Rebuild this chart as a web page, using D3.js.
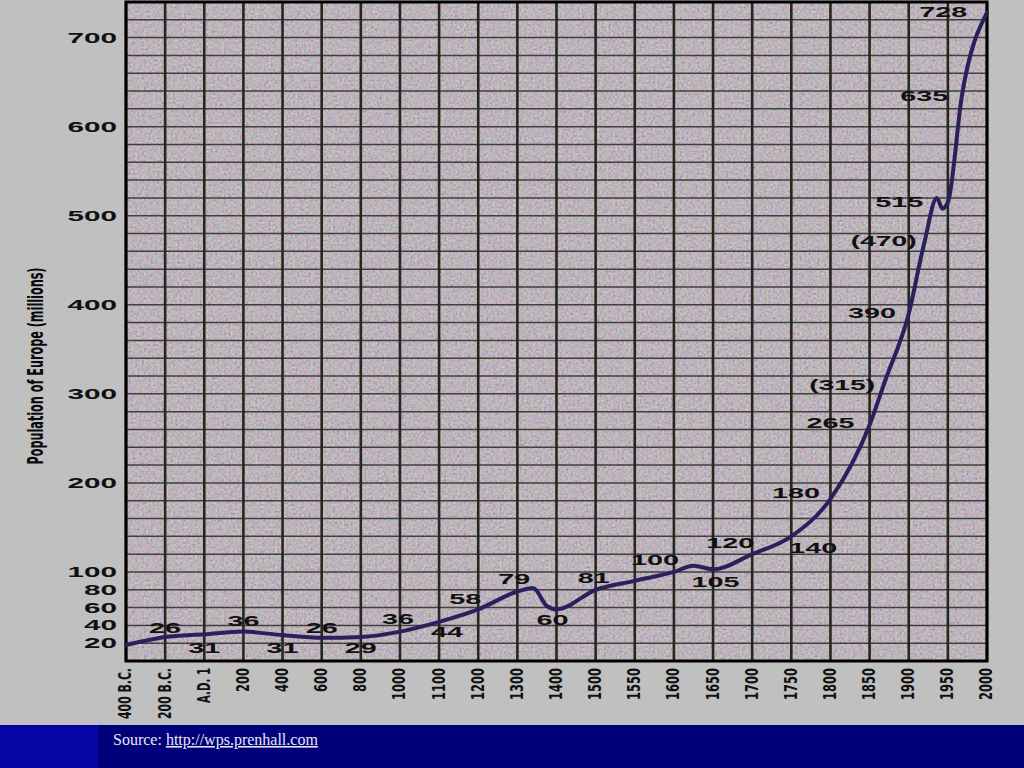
<!DOCTYPE html>
<html>
<head>
<meta charset="utf-8">
<script src="https://cdn.jsdelivr.net/npm/d3@7/dist/d3.min.js"></script>
<style>
  html, body { margin: 0; padding: 0; background: #c0c0c0; }
  svg { display: block; }
</style>
</head>
<body>
<svg id="chart" width="1024" height="768"></svg>
<script>
// ---- data ----
const categoryYears = [-400, -200, 1, 200, 400, 600, 800, 1000, 1100, 1200, 1300, 1400, 1500, 1550, 1600, 1650, 1700, 1750, 1800, 1850, 1900, 1950, 2000];
const categoryLabels = ["400 B.C.", "200 B.C.", "A.D. 1", "200", "400", "600", "800", "1000", "1100", "1200", "1300", "1400", "1500", "1550", "1600", "1650", "1700", "1750", "1800", "1850", "1900", "1950", "2000"];
const yTickValues = [20, 40, 60, 80, 100, 200, 300, 400, 500, 600, 700];
const yTickLabels = ["20", "40", "60", "80", "100", "200", "300", "400", "500", "600", "700"];

const seriesYears  = [-400, -200, 1, 200, 400, 600, 800, 1000, 1100, 1200, 1300, 1340, 1375, 1400, 1500, 1550, 1600, 1625, 1650, 1700, 1750, 1800, 1850, 1870, 1900, 1920, 1936, 1943, 1950, 1968, 2000];
const seriesValues = [18, 27, 30, 33, 29, 26, 27, 33, 44, 58, 78, 82, 62, 58, 80, 90, 100, 107, 103, 120, 140, 182, 265, 315, 390, 470, 520, 508, 515, 635, 728];

const annotationTexts  = ["26", "31", "36", "31", "26", "29", "36", "44", "58", "79", "60", "81", "100", "105", "120", "140", "180", "265", "(315)", "390", "(470)", "515", "635", "728"];
const annotationYears  = [-200, 1, 200, 400, 600, 800, 990, 1120, 1167, 1292, 1390, 1495, 1576, 1653, 1672, 1778, 1756, 1800, 1815, 1853, 1868, 1888, 1920, 1944];
const annotationValues = [37, 15, 45, 15, 37, 15, 47, 33, 70, 92, 46, 93, 113, 89, 133, 127, 189, 267, 310, 391, 472, 515, 634, 729];

const yTitle = "Population of Europe (millions)";
const sourcePrefix = "Source: ";
const sourceLink = "http://wps.prenhall.com";

// ---- layout ----
const svg = d3.select("#chart");
const plot = { left: 126, right: 987, top: 2, bottom: 661 };

const x = d3.scaleLinear()
  .domain(categoryYears)
  .range(categoryYears.map((d, i) => plot.left + i * (plot.right - plot.left) / (categoryYears.length - 1)));
const y = d3.scaleLinear().domain([0, 740]).range([plot.bottom, plot.top]);

// defs: noise texture
const defs = svg.append("defs");
const f = defs.append("filter").attr("id", "noise").attr("x", 0).attr("y", 0).attr("width", "100%").attr("height", "100%");
f.append("feTurbulence").attr("type", "fractalNoise").attr("baseFrequency", 0.45).attr("numOctaves", 1).attr("seed", 7).attr("result", "t");
f.append("feColorMatrix").attr("in", "t").attr("type", "matrix")
  .attr("values", "1.4 0 0 0 -0.15  0 1.3 0 0 -0.15  0 0 1.4 0 -0.15  0 0 0 0 0.5");

// plot background
svg.append("rect")
  .attr("x", plot.left).attr("y", plot.top)
  .attr("width", plot.right - plot.left).attr("height", plot.bottom - plot.top)
  .attr("fill", "#b7adb3");
svg.append("rect")
  .attr("x", plot.left).attr("y", plot.top)
  .attr("width", plot.right - plot.left).attr("height", plot.bottom - plot.top)
  .attr("filter", "url(#noise)");

// horizontal grid every 20
const hGrid = d3.range(20, 740, 20);
svg.append("g").selectAll("line").data(hGrid).join("line")
  .attr("x1", plot.left).attr("x2", plot.right)
  .attr("y1", d => y(d)).attr("y2", d => y(d))
  .attr("stroke", "#2e2b2a").attr("stroke-width", 1.5).attr("opacity", 0.85);

// vertical grid at each category
svg.append("g").selectAll("line").data(categoryYears).join("line")
  .attr("x1", d => x(d)).attr("x2", d => x(d))
  .attr("y1", plot.top).attr("y2", plot.bottom)
  .attr("stroke", "#26271e").attr("stroke-width", 2.6);

// frame
svg.append("rect")
  .attr("x", plot.left).attr("y", plot.top)
  .attr("width", plot.right - plot.left).attr("height", plot.bottom - plot.top)
  .attr("fill", "none").attr("stroke", "#000").attr("stroke-width", 3);

// y tick labels
svg.append("g").selectAll("text").data(yTickValues).join("text")
  .attr("x", 117).attr("y", d => y(d)).attr("dy", "0.36em")
  .attr("text-anchor", "end")
  .attr("font-family", "Liberation Sans, Arial, sans-serif")
  .attr("font-weight", "bold").attr("font-size", 14)
  .attr("textLength", (d, i) => yTickLabels[i].length * 16.5)
  .attr("lengthAdjust", "spacingAndGlyphs")
  .attr("fill", "#111")
  .text((d, i) => yTickLabels[i]);

// x tick labels (rotated)
const charW = c => /[0-9]/.test(c) ? 8 : c === "." ? 3.5 : c === " " ? 3 : 8.5;
const labelLen = s => s.split("").reduce((a, c) => a + charW(c), 0);
svg.append("g").selectAll("text").data(categoryYears).join("text")
  .attr("transform", d => `translate(${x(d) - 1},668) rotate(-90)`)
  .attr("dy", "0.38em")
  .attr("text-anchor", "end")
  .attr("font-family", "DejaVu Sans Condensed, Liberation Sans Narrow, sans-serif")
  .attr("font-weight", "bold").attr("font-size", 17)
  .attr("textLength", (d, i) => labelLen(categoryLabels[i]))
  .attr("lengthAdjust", "spacingAndGlyphs")
  .attr("fill", "#111")
  .text((d, i) => categoryLabels[i]);

// y title
svg.append("text")
  .attr("transform", "translate(35,366) rotate(-90)")
  .attr("dy", "0.36em")
  .attr("text-anchor", "middle")
  .attr("font-family", "DejaVu Sans Condensed, Liberation Sans Narrow, sans-serif")
  .attr("font-size", 21)
  .attr("font-weight", "bold")
  .attr("textLength", 197).attr("lengthAdjust", "spacingAndGlyphs")
  .attr("fill", "#0a0a0a")
  .text(yTitle);

// series line
const line = d3.line()
  .x((d, i) => x(seriesYears[i]))
  .y(d => y(d))
  .curve(d3.curveMonotoneX);
svg.append("path")
  .datum(seriesValues)
  .attr("d", line)
  .attr("fill", "none")
  .attr("stroke", "#2c1f5e")
  .attr("stroke-width", 4)
  .attr("stroke-linejoin", "round")
  .attr("stroke-linecap", "round");

// annotations
svg.append("g").selectAll("text").data(annotationTexts).join("text")
  .attr("x", (d, i) => x(annotationYears[i]))
  .attr("y", (d, i) => y(annotationValues[i]))
  .attr("dy", "0.36em")
  .attr("text-anchor", "middle")
  .attr("font-family", "Liberation Sans, Arial, sans-serif")
  .attr("font-weight", "bold").attr("font-size", 14)
  .attr("textLength", d => d.replace(/[()]/g, "").length * 16 + (d.match(/[()]/g) || []).length * 9)
  .attr("lengthAdjust", "spacingAndGlyphs")
  .attr("fill", "#111")
  .text(d => d);

// bottom band
svg.append("rect").attr("x", 0).attr("y", 725).attr("width", 1024).attr("height", 43).attr("fill", "#00007a");
svg.append("rect").attr("x", 0).attr("y", 725).attr("width", 98).attr("height", 43).attr("fill", "#0606a4");

const src = svg.append("text")
  .attr("x", 113).attr("y", 745)
  .attr("font-family", "Liberation Serif, Times New Roman, serif")
  .attr("font-size", 16)
  .attr("fill", "#e6e6f2");
src.append("tspan").text(sourcePrefix);
src.append("tspan").attr("text-decoration", "underline").text(sourceLink);
</script>
</body>
</html>
